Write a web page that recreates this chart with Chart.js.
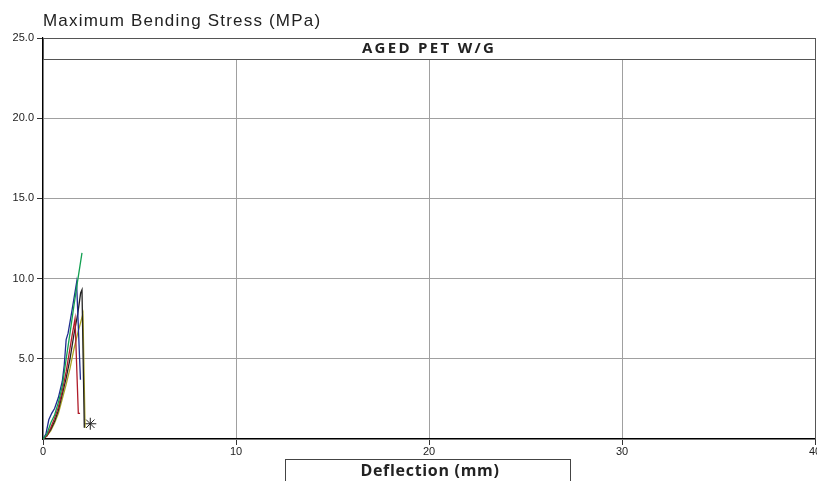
<!DOCTYPE html>
<html>
<head>
  <meta charset="utf-8">
  <title>Aged PET W/G</title>
  <script src="https://cdn.jsdelivr.net/npm/chart.js@4.4.0/dist/chart.umd.min.js"></script>
  <style>
    html, body { margin: 0; padding: 0; background: #fff; overflow: hidden; }
    #wrap { width: 817px; height: 481px; overflow: hidden; }
  </style>
</head>
<body>
  <div id="wrap"><canvas id="myChart" width="822" height="481"></canvas></div>
  <script type="text/javascript">
    // axis ticks
    var X_TICKS = [0, 10, 20, 30, 40];
    var Y_TICKS = [0, 5, 10, 15, 20, 25];

    // specimen curves: deflection (mm) / stress (MPa)
    var SPECIMENS = ["Specimen 1", "Specimen 2", "Specimen 3", "Specimen 4", "Specimen 5"];
    var DEFL_1 = [0, 0.2, 0.4, 0.6, 0.8, 1.0, 1.2, 1.4, 1.6, 1.8, 2.02];
    var STRESS_1 = [0, 0.3, 1.0, 1.5, 2.3, 3.3, 5.0, 6.6, 8.3, 9.9, 11.6];
    var DEFL_2 = [0, 0.15, 0.3, 0.45, 0.6, 0.8, 1.0, 1.1, 1.2, 1.3, 1.5, 1.74, 1.94];
    var STRESS_2 = [0, 0.3, 1.2, 1.6, 1.9, 2.6, 3.6, 4.6, 6.2, 6.6, 8.0, 9.75, 3.7];
    var DEFL_3 = [0, 0.2, 0.4, 0.6, 0.8, 1.0, 1.2, 1.35, 1.5, 1.66, 1.83, 1.92];
    var STRESS_3 = [0, 0.2, 0.7, 1.3, 2.0, 3.0, 4.2, 5.3, 6.4, 7.5, 1.6, 1.6];
    var DEFL_4 = [0, 0.2, 0.4, 0.6, 0.8, 1.0, 1.2, 1.4, 1.6, 1.8, 1.95, 2.02, 2.14];
    var STRESS_4 = [0, 0.2, 0.6, 1.1, 1.8, 2.8, 3.8, 5.0, 6.5, 7.8, 9.1, 9.3, 0.7];
    var DEFL_5 = [0, 0.2, 0.4, 0.6, 0.8, 1.0, 1.2, 1.4, 1.6, 1.8, 2.07, 2.18];
    var STRESS_5 = [0, 0.2, 0.5, 1.0, 1.6, 2.5, 3.4, 4.4, 5.6, 6.6, 7.8, 0.7];
    var BREAK_X = [2.45];
    var BREAK_Y = [0.95];

    var COLORS = ["#13a052", "#1f2c90", "#b01c2a", "#222222", "#aaa424"];

    function toPoints(xs, ys) {
      var pts = [];
      for (var i = 0; i < xs.length; i++) pts.push({ x: xs[i], y: ys[i] });
      return pts;
    }

    var datasets = [];
    var defl = [DEFL_1, DEFL_2, DEFL_3, DEFL_4, DEFL_5];
    var stress = [STRESS_1, STRESS_2, STRESS_3, STRESS_4, STRESS_5];
    for (var i = 0; i < SPECIMENS.length; i++) {
      datasets.push({
        label: SPECIMENS[i],
        data: toPoints(defl[i], stress[i]),
        borderColor: COLORS[i],
        borderWidth: 1.3,
        pointRadius: 0,
        showLine: true,
        tension: 0
      });
    }
    datasets.push({
      label: "Break",
      data: toPoints(BREAK_X, BREAK_Y),
      pointStyle: "star",
      pointRadius: 6,
      borderColor: "#222",
      borderWidth: 1,
      showLine: false
    });

    // boxes and titles drawn over the plot
    var boxes = {
      id: "boxes",
      afterDraw: function(chart) {
        var c = chart.ctx, a = chart.chartArea;
        c.save();
        c.strokeStyle = "#555";
        c.lineWidth = 1;
        c.beginPath();
        c.moveTo(a.right + 0.5, a.top);
        c.lineTo(a.right + 0.5, a.bottom);
        c.stroke();

        c.fillStyle = "#fff";
        c.fillRect(a.left, a.top, a.right - a.left, 21);
        c.strokeRect(a.left + 0.5, a.top + 0.5, a.right - a.left, 21);
        c.fillStyle = "#222";
        c.font = "bold 15px 'Open Sans'";
        c.letterSpacing = "2.3px";
        c.textAlign = "center";
        c.textBaseline = "middle";
        c.fillText("AGED PET W/G", (a.left + a.right) / 2, a.top + 11);

        c.fillStyle = "#fff";
        c.fillRect(286, 459, 285, 30);
        c.strokeStyle = "#444";
        c.strokeRect(285.5, 459.5, 285, 30);
        c.fillStyle = "#222";
        c.font = "bold 16px 'Open Sans'";
        c.letterSpacing = "0.7px";
        c.fillText("Deflection (mm)", 430, 471);

        c.font = "17px 'Liberation Sans'";
        c.letterSpacing = "1.2px";
        c.textAlign = "left";
        c.textBaseline = "alphabetic";
        c.fillText("Maximum Bending Stress (MPa)", 43, 26);
        c.restore();
      }
    };

    var tickFont = { family: "'Liberation Sans'", size: 11 };

    var ctx = document.getElementById("myChart");
    var myChart = new Chart(ctx, {
      type: "scatter",
      data: { datasets: datasets },
      plugins: [boxes],
      options: {
        responsive: false,
        animation: false,
        layout: { padding: { top: 38, right: 0, left: 0, bottom: 0 } },
        plugins: { legend: { display: false }, tooltip: { enabled: false } },
        scales: {
          x: {
            type: "linear",
            min: 0,
            max: 40,
            afterBuildTicks: function(s) { s.ticks = X_TICKS.map(function(v) { return { value: v }; }); },
            afterFit: function(s) { s.height = 42; },
            ticks: { color: "#222", font: tickFont, padding: 0, maxRotation: 0, autoSkip: false },
            grid: { color: "#a0a0a0", tickColor: "#333", tickLength: 6, lineWidth: 1 },
            border: { color: "#000", width: 1.2 }
          },
          y: {
            type: "linear",
            min: 0,
            max: 25,
            afterBuildTicks: function(s) { s.ticks = Y_TICKS.map(function(v) { return { value: v }; }); },
            afterFit: function(s) { s.width = 43; s.paddingTop = 0; s.paddingBottom = 0; },
            ticks: {
              color: "#222",
              font: tickFont,
              padding: 3,
              callback: function(v) { return v === 0 ? "" : v.toFixed(1); }
            },
            grid: {
              color: "#a0a0a0",
              tickColor: function(c) { return c.tick && c.tick.value === 0 ? "rgba(0,0,0,0)" : "#333"; },
              tickLength: 6,
              lineWidth: 1
            },
            border: { color: "#000", width: 1.2 }
          }
        }
      }
    });
  </script>
</body>
</html>
